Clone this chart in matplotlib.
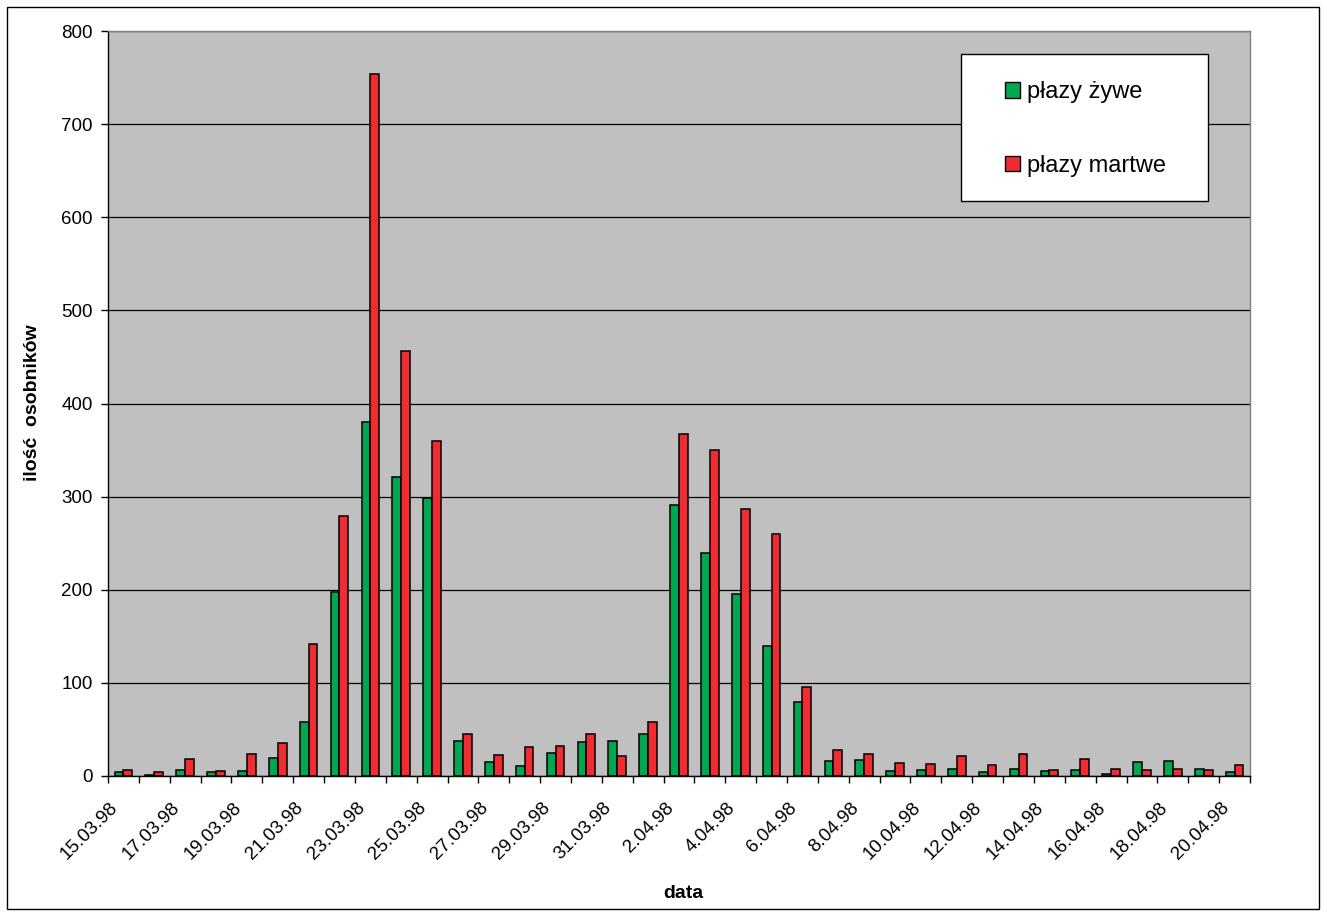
import matplotlib
matplotlib.use('Agg')
import matplotlib.pyplot as plt
import matplotlib.transforms as mtransforms
from matplotlib.patches import Rectangle, Patch
import numpy as np

plt.rcParams['font.family'] = ['Liberation Sans', 'DejaVu Sans']

# dane z wykresu
daty = ['15.03.98', '16.03.98', '17.03.98', '18.03.98', '19.03.98', '20.03.98',
        '21.03.98', '22.03.98', '23.03.98', '24.03.98', '25.03.98', '26.03.98',
        '27.03.98', '28.03.98', '29.03.98', '30.03.98', '31.03.98', '1.04.98',
        '2.04.98', '3.04.98', '4.04.98', '5.04.98', '6.04.98', '7.04.98',
        '8.04.98', '9.04.98', '10.04.98', '11.04.98', '12.04.98', '13.04.98',
        '14.04.98', '15.04.98', '16.04.98', '17.04.98', '18.04.98', '19.04.98',
        '20.04.98']
zywe = [4, 1, 6, 4, 5, 19, 58, 198, 380, 321, 298, 38, 15, 11, 25, 36, 38, 45,
        291, 240, 195, 140, 80, 16, 17, 5, 6, 8, 4, 8, 5, 6, 2, 15, 16, 8, 4]
martwe = [6, 4, 18, 5, 24, 35, 142, 279, 754, 456, 360, 45, 23, 31, 32, 45, 21, 58,
          367, 350, 287, 260, 96, 28, 24, 14, 13, 21, 12, 24, 6, 18, 8, 6, 8, 6, 12]

zielony = '#00A650'
czerwony = '#EE2C32'

W, H = 1327, 917
fig = plt.figure(figsize=(W / 100, H / 100), dpi=100)
ax = fig.add_axes([108 / W, 1 - 776 / H, (1250 - 108) / W, (776 - 31) / H])

x = np.arange(len(daty))
w = 1 / 3.5
ax.bar(x - w / 2, zywe, w, color=zielony, edgecolor='black', linewidth=1.1, zorder=3)
ax.bar(x + w / 2, martwe, w, color=czerwony, edgecolor='black', linewidth=1.1, zorder=3)

ax.set_xlim(-0.5, len(daty) - 0.5)
ax.set_ylim(0, 800)
ax.set_yticks(range(0, 801, 100))
ax.set_facecolor('#C0C0C0')
ax.yaxis.grid(True, color='black', linewidth=0.9)
ax.set_axisbelow(True)

# etykiety co drugi dzien, kreski na granicach kategorii
ax.set_xticks(x[::2])
ax.set_xticklabels(daty[::2], rotation=45, ha='right', va='center',
                   rotation_mode='anchor', fontsize=13.5)
ax.tick_params(axis='x', which='major', length=0, pad=21)
ax.set_xticks(np.arange(-0.5, len(daty), 1), minor=True)
ax.tick_params(axis='x', which='minor', length=5, width=1, direction='out')
offset = mtransforms.ScaledTranslation(-0.08, 0, fig.dpi_scale_trans)
for lab in ax.get_xticklabels():
    lab.set_transform(lab.get_transform() + offset)

ax.tick_params(axis='y', length=5, width=1, pad=6, labelsize=13.5)

for s in ['left', 'bottom']:
    ax.spines[s].set_color('black')
    ax.spines[s].set_linewidth(1)
for s in ['top', 'right']:
    ax.spines[s].set_color('#808080')
    ax.spines[s].set_linewidth(1)

fig.text(683 / W, 1 - 893 / H, 'data', ha='center', va='center',
         fontsize=14, fontweight='bold')
fig.text(33 / W, 1 - 403 / H, 'ilość  osobników', ha='center', va='center',
         rotation=90, fontsize=14, fontweight='bold')

# legenda w bialej ramce
ramka = Rectangle((961 / W, 1 - 201 / H), 247 / W, 147 / H, transform=fig.transFigure,
                  facecolor='white', edgecolor='black', linewidth=1, zorder=5)
fig.add_artist(ramka)
uchwyty = [Patch(facecolor=zielony, edgecolor='black', label='płazy żywe'),
           Patch(facecolor=czerwony, edgecolor='black', label='płazy martwe')]
leg = fig.legend(handles=uchwyty, loc='center left',
                 bbox_to_anchor=(1005 / W, 1 - 129 / H), frameon=False,
                 fontsize=17, handlelength=0.64, handleheight=0.64,
                 handletextpad=0.28, labelspacing=2.2, borderpad=0, borderaxespad=0)
leg.set_zorder(6)

# obramowanie calego wykresu
fig.add_artist(Rectangle((7 / W, 1 - 909 / H), 1312 / W, 902 / H, transform=fig.transFigure,
                         fill=False, edgecolor='black', linewidth=1))

fig.savefig('out.png', dpi=100)
